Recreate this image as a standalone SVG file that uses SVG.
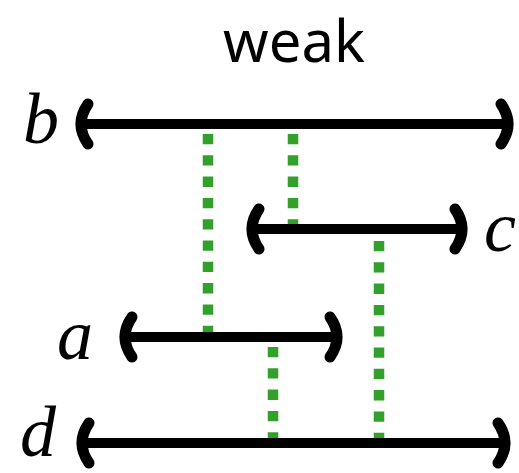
<svg xmlns="http://www.w3.org/2000/svg" width="519" height="473" viewBox="0 0 519 473">
<style>
.bar{stroke:#000;stroke-width:10;fill:none}
.br{stroke:#000;stroke-width:11;fill:none;stroke-linecap:round}
.dot{stroke:#33a02c;stroke-width:10.5;fill:none;stroke-dasharray:10.3 11}
.lab{font-family:"Liberation Serif","Times New Roman",serif;font-style:italic;font-size:72px;fill:#000}
.title{font-family:"Noto Sans","Open Sans",sans-serif;font-size:58px;fill:#000}
</style>
<rect width="519" height="473" fill="#fff"/>
<text class="title" x="294" y="62" text-anchor="middle">weak</text>
<g id="connectors">
<line class="dot" x1="208" y1="134" x2="208" y2="332"/>
<line class="dot" x1="293" y1="134" x2="293" y2="224"/>
<line class="dot" x1="379" y1="241" x2="379" y2="438"/>
<line class="dot" x1="273" y1="347" x2="273" y2="438"/>
</g>
<g id="b">
<line class="bar" x1="82" y1="124" x2="507" y2="124"/>
<path class="br" d="M88 104 Q74 124 88 144"/>
<path class="br" d="M501 104 Q515 124 501 144"/>
<text class="lab" x="23" y="143">b</text>
</g>
<g id="c">
<line class="bar" x1="252" y1="229" x2="462" y2="229"/>
<path class="br" d="M259 209 Q245 229 259 249"/>
<path class="br" d="M455 209 Q469 229 455 249"/>
<text class="lab" x="484" y="251">c</text>
</g>
<g id="a">
<line class="bar" x1="125" y1="337" x2="337" y2="337"/>
<path class="br" d="M132 317 Q118 337 132 357"/>
<path class="br" d="M330 317 Q344 337 330 357"/>
<text class="lab" x="57" y="359">a</text>
</g>
<g id="d">
<line class="bar" x1="82" y1="443" x2="505" y2="443"/>
<path class="br" d="M89 423 Q75 443 89 463"/>
<path class="br" d="M498 423 Q512 443 498 463"/>
<text class="lab" x="20" y="456" font-size="70">d</text>
</g>
</svg>
